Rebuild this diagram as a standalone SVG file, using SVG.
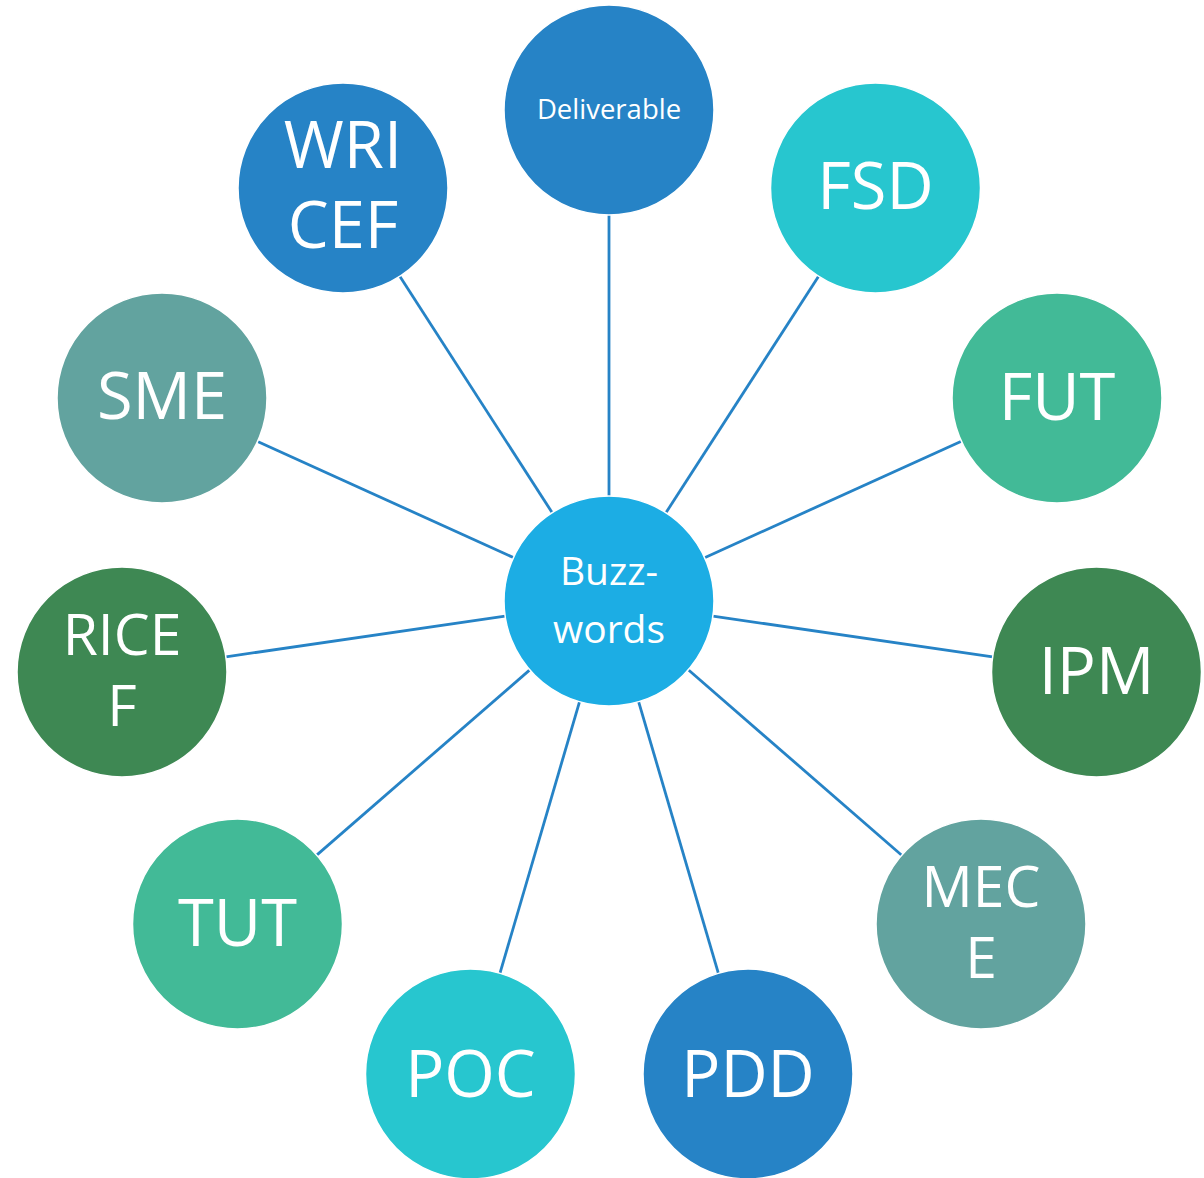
<svg xmlns="http://www.w3.org/2000/svg" width="1204" height="1178" viewBox="0 0 1204 1178">
<style>
.n{stroke:#ffffff;stroke-width:1.5}
.t{font-family:"Open Sans","Noto Sans",sans-serif;fill:#ffffff;text-anchor:middle}
.big{font-size:65px}
.mid{font-size:57px}
.c1{fill:#1CADE4}.c2{fill:#2683C6}.c3{fill:#27C6CF}.c4{fill:#42BA97}.c5{fill:#3E8853}.c6{fill:#62A39F}
.e{stroke:#2683C6;stroke-width:2.8;fill:none}
</style>
<rect width="1204" height="1178" fill="#ffffff"/>
<g id="connectors">
<line class="e" x1="609" y1="496" x2="609" y2="215"/>
<line class="e" x1="665.9" y1="512.8" x2="818.6" y2="276.2"/>
<line class="e" x1="704.6" y1="557.7" x2="961.4" y2="441.3"/>
<line class="e" x1="712.9" y1="616.1" x2="992.6" y2="656.9"/>
<line class="e" x1="688.3" y1="669.8" x2="901.7" y2="855.2"/>
<line class="e" x1="638.6" y1="701.7" x2="718.4" y2="973.3"/>
<line class="e" x1="579.5" y1="701.8" x2="500" y2="973.2"/>
<line class="e" x1="529.8" y1="669.9" x2="316.7" y2="855.1"/>
<line class="e" x1="505.1" y1="616.2" x2="225.9" y2="656.8"/>
<line class="e" x1="513.4" y1="557.6" x2="257.6" y2="441.4"/>
<line class="e" x1="552.2" y1="512.7" x2="399.8" y2="276.3"/>
</g>
<g id="center">
<circle class="n c1" cx="609" cy="601" r="105"/>
<text class="t" x="609" y="585" font-size="39">Buzz-</text>
<text class="t" x="609" y="643" font-size="39">words</text>
</g>
<g id="deliverable">
<circle class="n c2" cx="609" cy="110" r="105"/>
<text class="t" x="609" y="119" font-size="27.5">Deliverable</text>
</g>
<g id="fsd">
<circle class="n c3" cx="875.5" cy="188" r="105"/>
<text class="t big" x="875.5" y="209">FSD</text>
</g>
<g id="fut">
<circle class="n c4" cx="1057" cy="398" r="105"/>
<text class="t big" x="1057" y="420">FUT</text>
</g>
<g id="ipm">
<circle class="n c5" cx="1096.5" cy="672" r="105"/>
<text class="t big" x="1096.5" y="694">IPM</text>
</g>
<g id="mece">
<circle class="n c6" cx="981" cy="924" r="105"/>
<text class="t mid" x="981" y="907">MEC</text>
<text class="t mid" x="981" y="978">E</text>
</g>
<g id="pdd">
<circle class="n c2" cx="748" cy="1074" r="105"/>
<text class="t big" x="748" y="1097">PDD</text>
</g>
<g id="poc">
<circle class="n c3" cx="470.5" cy="1074" r="105"/>
<text class="t big" x="470.5" y="1097">POC</text>
</g>
<g id="tut">
<circle class="n c4" cx="237.5" cy="924" r="105"/>
<text class="t big" x="237.5" y="946">TUT</text>
</g>
<g id="ricef">
<circle class="n c5" cx="122" cy="672" r="105"/>
<text class="t mid" x="122" y="655">RICE</text>
<text class="t mid" x="122" y="726">F</text>
</g>
<g id="sme">
<circle class="n c6" cx="162" cy="398" r="105"/>
<text class="t big" x="162" y="419">SME</text>
</g>
<g id="wricef">
<circle class="n c2" cx="343" cy="188" r="105"/>
<text class="t big" x="343" y="168">WRI</text>
<text class="t big" x="343" y="248">CEF</text>
</g>
</svg>
